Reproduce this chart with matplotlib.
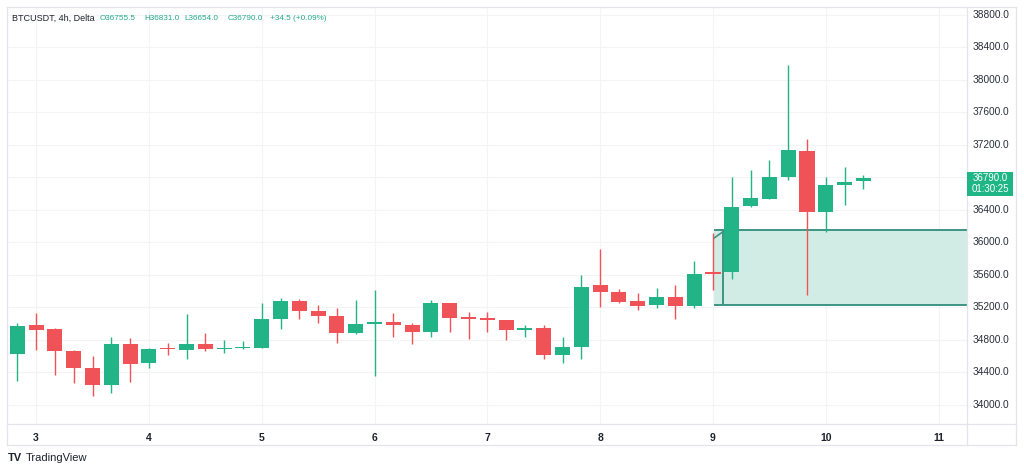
import matplotlib
matplotlib.use("Agg")
import matplotlib.pyplot as plt
from matplotlib.patches import Rectangle
from matplotlib.lines import Line2D
import numpy as np

plt.rcParams['font.family'] = ['Liberation Sans', 'DejaVu Sans']

# ---------------- data (4h candles, first candle = day 2 20:00) ----------------
opens = [34627, 34990, 34930, 34667, 34458, 34245, 34750, 34512, 34700, 34680,
         34746, 34692, 34702, 34705, 35054, 35283, 35160, 35095, 34882, 34995,
         35025, 34984, 34901, 35251, 35086, 35074, 35045, 34930, 34943, 34615,
         34717, 35476, 35394, 35279, 35230, 35332, 35218, 35628, 35640, 36452,
         36535, 36810, 37130, 36379, 36703, 36755.5]
highs = [35012, 35128, 34945, 34680, 34602, 34840, 34820, 34700, 34766, 35119,
         34882, 34800, 34787, 35258, 35320, 35300, 35230, 35190, 35292, 35415,
         35136, 35010, 35292, 35260, 35148, 35148, 35050, 34984, 34984, 34840,
         35600, 35916, 35423, 35382, 35436, 35476, 35775, 36113, 36810, 36892,
         37015, 38185, 37270, 36810, 36925, 36831]
lows = [34298, 34676, 34368, 34274, 34114, 34150, 34286, 34458, 34614, 34561,
        34667, 34636, 34688, 34700, 34930, 35054, 35012, 34758, 34875, 34356,
        34840, 34750, 34832, 34901, 34811, 34901, 34800, 34840, 34561, 34520,
        34561, 35209, 35259, 35168, 35190, 35058, 35190, 35415, 35547, 36440,
        36530, 36769, 35353, 36132, 36461, 36654]
closes = [34972, 34918, 34667, 34458, 34245, 34750, 34500, 34688, 34688, 34746,
          34688, 34700, 34712, 35054, 35283, 35160, 35095, 34882, 34996, 35020,
          34980, 34901, 35251, 35067, 35058, 35045, 34922, 34940, 34615, 34709,
          35456, 35394, 35271, 35222, 35325, 35218, 35612, 35620, 36440, 36543,
          36810, 37138, 36379, 36707, 36740, 36790]
day_labels = ['3', '4', '5', '6', '7', '8', '9', '10', '11']
price_ticks = [34000, 34400, 34800, 35200, 35600, 36000, 36400,
               37200, 37600, 38000, 38400, 38800]
zone_top = 36150
zone_bottom = 35225
last_price = 36790.0
countdown = '01:30:25'
header_parts = ['BTCUSDT, 4h, Delta', 'O36755.5', 'H36831.0', 'L36654.0',
                'C36790.0', '+34.5 (+0.09%)']

UP = '#22b487'
DOWN = '#ef5358'
ZONE_FILL = '#d1ece5'
ZONE_EDGE = '#3d9485'
GRID = '#f3f4f6'
FRAME = '#e3e5ea'
TEXT = '#1e222d'

W, H = 1024, 473
fig = plt.figure(figsize=(W / 100, H / 100), dpi=100)
fig.patch.set_facecolor('white')

def fx(px):
    return px / W

def fy(py):
    return 1 - py / H

# main axes: x 7.3..967 px, y 7..424 px
L, R, T, B = 7.3, 967, 7, 424
YMIN, YMAX = 33766, 38898
ax = fig.add_axes([fx(L), fy(B), fx(R - L), (B - T) / H])
ax.set_xlim(-0.532, 50.51)
ax.set_ylim(YMIN, YMAX)
for s in ax.spines.values():
    s.set_visible(False)

n = len(opens)
idx = np.arange(n)
o = np.array(opens, float)
h = np.array(highs, float)
l = np.array(lows, float)
c = np.array(closes, float)
up = c >= o
colors = np.where(up, UP, DOWN)

# grid
day_pos = [1 + 6 * k for k in range(len(day_labels))]
for yv in price_ticks + [36800]:
    ax.axhline(yv, color=GRID, lw=0.8, zorder=0)
for xv in day_pos:
    ax.axvline(xv, color=GRID, lw=0.8, zorder=0)

# zone (drawn below candles)
zone_x0 = 37.06
ax.add_patch(Rectangle((zone_x0, zone_bottom), 50.6 - zone_x0, zone_top - zone_bottom,
                       facecolor=ZONE_FILL, edgecolor='none', zorder=1))
ax.plot([zone_x0, 50.6], [zone_top, zone_top], color=ZONE_EDGE, lw=1.4, zorder=2,
        solid_capstyle='butt')
ax.plot([zone_x0, 50.6], [zone_bottom, zone_bottom], color=ZONE_EDGE, lw=1.4, zorder=2,
        solid_capstyle='butt')
ax.plot([37.52, 37.52], [zone_bottom, zone_top], color=ZONE_EDGE, lw=1.4, zorder=2)
ax.plot([zone_x0, 37.64], [zone_top - 95, zone_top], color=ZONE_EDGE, lw=1.2, zorder=2)

# candles
ax.vlines(idx, l, h, colors=colors, lw=1.0, zorder=3)
diff = np.abs(c - o)
min_h = 22
body_h = np.maximum(diff, min_h)
body_lo = np.minimum(o, c) - np.where(diff < min_h, (min_h - diff) / 2, 0)
ax.bar(idx, body_h, bottom=body_lo, width=0.8, color=colors, linewidth=0, zorder=4)

# x axis labels
ax.set_xticks(day_pos)
ax.set_xticklabels(day_labels, fontsize=7.5, color=TEXT, fontweight='bold')
ax.tick_params(axis='x', length=0, pad=6.5)
ax.tick_params(axis='y', left=False, labelleft=False)

def ypix(p):
    return B - (p - YMIN) / (YMAX - YMIN) * (B - T)

# price axis labels
for p in price_ticks:
    fig.text(fx(973), fy(ypix(p)), f'{p:.1f}', fontsize=7.3, color='#2a2e39',
             ha='left', va='center')

# last price label
yl = ypix(last_price)
fig.patches.append(Rectangle((fx(967), fy(196)), fx(46), (196 - 171.7) / H,
                             transform=fig.transFigure, facecolor='#1fb585',
                             edgecolor='none', zorder=5))
fig.text(fx(990), fy(yl), f'{last_price:.1f}', fontsize=7, color='white',
         ha='center', va='center', zorder=6)
fig.text(fx(990), fy(yl + 11), countdown, fontsize=7, color='white',
         ha='center', va='center', zorder=6)

# frame lines
frame = dict(color=FRAME, lw=0.9, transform=fig.transFigure)
fig.add_artist(Line2D([fx(7), fx(1016)], [fy(7), fy(7)], **frame))
fig.add_artist(Line2D([fx(7), fx(1016)], [fy(445), fy(445)], **frame))
fig.add_artist(Line2D([fx(7), fx(7)], [fy(7), fy(445)], **frame))
fig.add_artist(Line2D([fx(1016), fx(1016)], [fy(7), fy(445)], **frame))
fig.add_artist(Line2D([fx(967), fx(967)], [fy(7), fy(445)], **frame))
fig.add_artist(Line2D([fx(7), fx(1016)], [fy(424), fy(424)], **frame))

# header
hx = [12, 100, 144, 184, 228, 270]
for i, (txt, x) in enumerate(zip(header_parts, hx)):
    fig.text(fx(x), fy(18), txt, fontsize=6.5 if i == 0 else 5.9,
             color=TEXT if i == 0 else '#22a98a', ha='left', va='center')

# logo
fig.text(fx(8), fy(458), 'TV', fontsize=8, fontweight='heavy', color=TEXT,
         ha='left', va='center')
fig.text(fx(26), fy(458), 'TradingView', fontsize=8, color=TEXT,
         ha='left', va='center')

fig.savefig('out.png', dpi=100, facecolor='white')
